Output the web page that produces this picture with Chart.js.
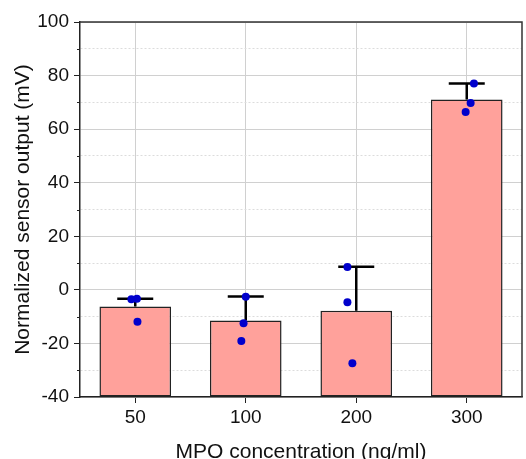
<!DOCTYPE html>
<html>
<head>
<meta charset="utf-8">
<script src="https://cdn.jsdelivr.net/npm/chart.js@4.4.1/dist/chart.umd.min.js"></script>
<style>
  html, body { margin: 0; padding: 0; background: #fff; overflow: hidden; }
  #wrap { width: 526px; height: 459px; }
</style>
</head>
<body>
<div id="wrap"><canvas id="myChart" width="526" height="459"></canvas></div>

<script>
    // data
    const concentrations = ['50', '100', '200', '300'];
    const meanOutput = [-6.2, -11.4, -7.8, 71.1];
    const errorTop = [-3.3, -2.5, 8.6, 77.0];

    // individual measurements (three per concentration)
    const pointGroup = [0, 0, 0, 1, 1, 1, 2, 2, 2, 3, 3, 3];
    const pointJitter = [-0.035, 0.015, 0.02, 0.0, -0.02, -0.04, -0.08, -0.08, -0.035, 0.065, 0.035, -0.01];
    const pointValues = [-3.5, -3.3, -11.9, -2.6, -12.5, -19.1, 8.5, -4.6, -27.4, 77.0, 69.8, 66.4];

    const yTicks = { min: -40, max: 100, step: 10, labelStep: 20 };

    const isMajor = v => Math.abs(v % yTicks.labelStep) < 1e-6;

    // error bars (upper only) drawn right after the bars
    const errorBars = {
        id: 'errorBars',
        afterDatasetDraw(chart, args) {
            if (args.index !== 0) return;
            const ctx = chart.ctx;
            const xs = chart.scales.x;
            const ys = chart.scales.y;
            ctx.save();
            ctx.strokeStyle = '#000';
            ctx.lineWidth = 2.5;
            errorTop.forEach((top, i) => {
                const x = xs.getPixelForValue(i);
                const y0 = ys.getPixelForValue(meanOutput[i]);
                const y1 = ys.getPixelForValue(top);
                ctx.beginPath();
                ctx.moveTo(x, y0);
                ctx.lineTo(x, y1);
                ctx.moveTo(x - 18, y1);
                ctx.lineTo(x + 18, y1);
                ctx.stroke();
            });
            ctx.restore();
        }
    };

    // top/right frame and the short minor ticks on the y axis
    const frame = {
        id: 'frame',
        afterDraw(chart) {
            const {ctx, chartArea: a} = chart;
            const ys = chart.scales.y;
            ctx.save();
            ctx.strokeStyle = '#333';
            ctx.lineWidth = 1.5;
            ctx.beginPath();
            ctx.moveTo(a.left, a.top);
            ctx.lineTo(a.right, a.top);
            ctx.lineTo(a.right, a.bottom);
            ctx.stroke();
            ctx.strokeStyle = '#222';
            ctx.lineWidth = 1;
            ys.ticks.forEach(t => {
                if (isMajor(t.value)) return;
                const y = Math.round(ys.getPixelForValue(t.value)) + 0.5;
                ctx.beginPath();
                ctx.moveTo(a.left - 3, y);
                ctx.lineTo(a.left, y);
                ctx.stroke();
            });
            ctx.restore();
        }
    };

    const font = 'Liberation Sans, Arial, sans-serif';

    const ctx = document.getElementById('myChart').getContext('2d');
    const myChart = new Chart(ctx, {
        type: 'bar',
        data: {
            labels: concentrations,
            datasets: [{
                type: 'bar',
                label: 'mean',
                data: meanOutput,
                base: yTicks.min,   // bars rise from the bottom of the axis
                backgroundColor: '#ffa19b',
                borderColor: '#222',
                borderWidth: 1.5,
                borderSkipped: false,
                grouped: false,
                barPercentage: 0.81,
                categoryPercentage: 0.8,
                order: 2
            }, {
                type: 'scatter',
                label: 'measurements',
                xAxisID: 'xs',
                data: pointValues.map((v, i) => ({ x: pointGroup[i] + pointJitter[i], y: v })),
                backgroundColor: '#0000cc',
                borderWidth: 0,
                pointRadius: 4,
                order: 1
            }]
        },
        options: {
            responsive: false,
            animation: false,
            events: [],
            layout: { padding: { top: 22, right: -1, left: 0, bottom: 0 } },
            plugins: {
                legend: { display: false },
                tooltip: { enabled: false }
            },
            scales: {
                x: {
                    type: 'category',
                    offset: true,
                    afterFit(scale) { scale.height = 62; },
                    grid: {
                        offset: false,
                        color: '#d0d0d0',
                        lineWidth: 1,
                        tickColor: '#222',
                        tickLength: 6
                    },
                    border: { color: '#222', width: 1.5 },
                    ticks: {
                        color: '#111',
                        padding: 3,
                        maxRotation: 0,
                        font: { family: font, size: 19 }
                    },
                    title: {
                        display: true,
                        text: 'MPO concentration (ng/ml)',
                        color: '#111',
                        font: { family: font, size: 21 },
                        padding: { top: 0, bottom: -6 }
                    }
                },
                xs: {
                    type: 'linear',
                    display: false,
                    offset: false,
                    grid: { offset: false },
                    min: -0.5,
                    max: 3.5
                },
                y: {
                    min: yTicks.min,
                    max: yTicks.max,
                    afterFit(scale) { scale.width = 80; },
                    grid: {
                        color: c => isMajor(c.tick.value) ? '#d0d0d0' : '#dcdcdc',
                        lineWidth: 1,
                        tickColor: c => isMajor(c.tick.value) ? '#222' : 'rgba(0,0,0,0)',
                        tickLength: 6
                    },
                    border: {
                        color: '#222',
                        width: 1.5,
                        dash: c => (c.tick && !isMajor(c.tick.value)) ? [2, 2] : []
                    },
                    ticks: {
                        stepSize: yTicks.step,
                        color: '#111',
                        padding: 5,
                        font: { family: font, size: 19 },
                        callback: v => isMajor(v) ? v : ''
                    },
                    title: {
                        display: true,
                        text: 'Normalized sensor output (mV)',
                        color: '#111',
                        font: { family: font, size: 21 },
                        padding: { top: 11, bottom: 0 }
                    }
                }
            }
        },
        plugins: [errorBars, frame]
    });
</script>
</body>
</html>
